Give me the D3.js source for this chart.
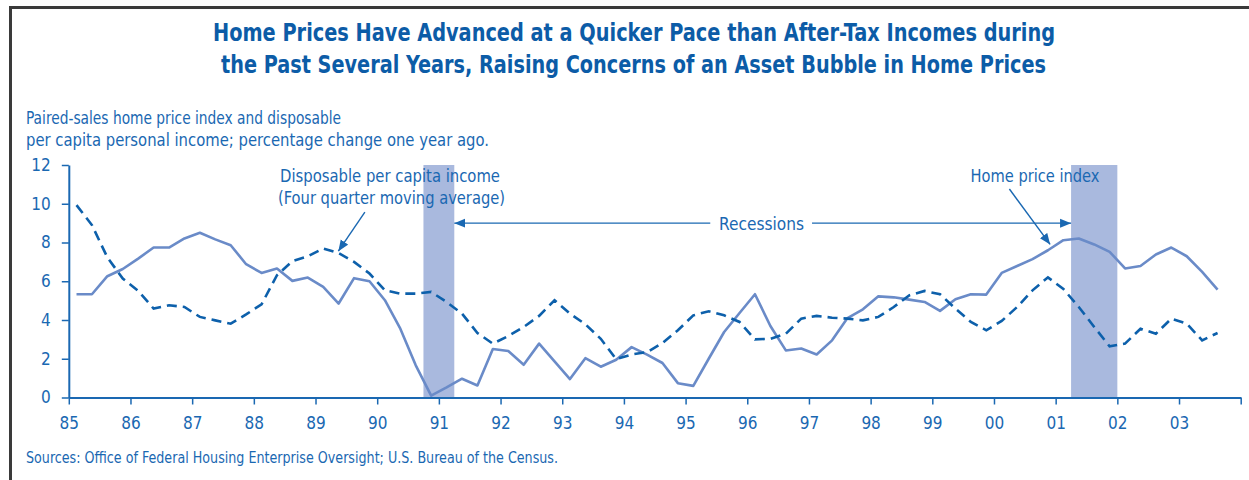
<!DOCTYPE html>
<html>
<head>
<meta charset="utf-8">
<script src="https://cdn.jsdelivr.net/npm/d3@7/dist/d3.min.js"></script>
<style>
  html, body { margin: 0; padding: 0; background: #fff; }
  svg text { font-family: "Liberation Sans Narrow", "Arial Narrow", "DejaVu Sans Condensed", sans-serif; }
</style>
</head>
<body>
<svg id="chart" width="1249" height="480"></svg>
<script>
// Quarterly data, 1985Q1 .. 2003Q3 (percent change from one year ago)
const startYear = 1985;
const homePrice = [
  5.33, 5.33, 6.26, 6.63, 7.17, 7.74, 7.74, 8.21, 8.50, 8.16,
  7.86, 6.88, 6.43, 6.66, 6.02, 6.19, 5.71, 4.85, 6.16, 6.00,
  5.02, 3.55, 1.66, 0.10, 0.52, 0.97, 0.62, 2.50, 2.40, 1.69,
  2.78, 1.86, 0.95, 2.03, 1.59, 1.95, 2.60, 2.21, 1.78, 0.74,
  0.60, 2.00, 3.38, 4.36, 5.33, 3.69, 2.43, 2.53, 2.22, 2.95,
  4.10, 4.55, 5.22, 5.17, 5.05, 4.93, 4.47, 5.07, 5.33, 5.31,
  6.43, 6.79, 7.14, 7.60, 8.12, 8.21, 7.90, 7.52, 6.66, 6.79,
  7.38, 7.74, 7.29, 6.48, 5.57
];
const income = [
  9.93, 8.90, 7.23, 6.14, 5.50, 4.59, 4.76, 4.67, 4.16, 3.98,
  3.81, 4.29, 4.81, 6.31, 7.04, 7.29, 7.69, 7.45, 7.00, 6.40,
  5.53, 5.36, 5.36, 5.45, 4.93, 4.33, 3.33, 2.78, 3.17, 3.64,
  4.21, 5.02, 4.33, 3.78, 3.03, 1.98, 2.22, 2.34, 2.81, 3.47,
  4.24, 4.45, 4.24, 3.90, 3.00, 3.03, 3.29, 4.07, 4.21, 4.12,
  4.07, 3.98, 4.16, 4.67, 5.27, 5.50, 5.33, 4.59, 3.90, 3.47,
  3.95, 4.67, 5.53, 6.20, 5.60, 4.67, 3.64, 2.64, 2.78, 3.55,
  3.29, 4.07, 3.81, 2.95, 3.33
];
const recessions = [[1990.75, 1991.25], [2001.25, 2002.0]];
const xTicks = d3.range(1985, 2005);
const xTickLabels = ["85","86","87","88","89","90","91","92","93","94","95","96","97","98","99","00","01","02","03",""];
const yTicks = [0, 2, 4, 6, 8, 10, 12];

const titleLines = [
  "Home Prices Have Advanced at a Quicker Pace than After-Tax Incomes during",
  "the Past Several Years, Raising Concerns of an Asset Bubble in Home Prices"
];
const subtitleLines = [
  "Paired-sales home price index and disposable",
  "per capita personal income; percentage change one year ago."
];
const sourceText = "Sources: Office of Federal Housing Enterprise Oversight; U.S. Bureau of the Census.";

const blue = "#1a68b2";
const titleBlue = "#0c5ca7";
const solidBlue = "#6a8bc8";
const dashBlue = "#0d60ab";
const bandFill = "#a9b9de";

const svg = d3.select("#chart");

// frame
svg.append("path")
  .attr("d", "M10.5,480V7.5H1249")
  .attr("fill", "none")
  .attr("stroke", "#3a3a3a")
  .attr("stroke-width", 3);

// helper: text fitted to measured width
function fitText(sel, str, width) {
  sel.text(str);
  if (width) sel.attr("textLength", width).attr("lengthAdjust", "spacingAndGlyphs");
  return sel;
}

// title
[[634, 41, 842], [633.5, 73, 825]].forEach((p, i) => {
  fitText(svg.append("text")
    .attr("x", p[0]).attr("y", p[1])
    .attr("text-anchor", "middle")
    .attr("font-size", 25).attr("font-weight", "bold")
    .attr("fill", titleBlue), titleLines[i], p[2]);
});

// axis caption
[[124, 315], [146, 463]].forEach((p, i) => {
  fitText(svg.append("text")
    .attr("x", 26).attr("y", p[0])
    .attr("font-size", 17)
    .attr("fill", blue), subtitleLines[i], p[1]);
});

// sources
fitText(svg.append("text")
  .attr("x", 26).attr("y", 463)
  .attr("font-size", 15)
  .attr("fill", blue), sourceText, 532);

// scales
const x = d3.scaleLinear().domain([1985, 2004]).range([68.8, 1240.7]);
const y = d3.scaleLinear().domain([0, 12]).range([397.5, 165]);
const dateOf = (i) => startYear + (i + 0.5) / 4;

// recession bands
svg.append("g")
  .selectAll("rect")
  .data(recessions)
  .join("rect")
  .attr("x", (d) => x(d[0]))
  .attr("width", (d) => x(d[1]) - x(d[0]))
  .attr("y", y(12))
  .attr("height", y(0) - y(12))
  .attr("fill", bandFill);

// axes
const xAxis = svg.append("g")
  .attr("transform", `translate(0,${y(0)})`)
  .call(d3.axisBottom(x).tickValues(xTicks).tickSize(7).tickSizeOuter(0)
    .tickPadding(12).tickFormat((d, i) => xTickLabels[i]));
const yAxis = svg.append("g")
  .attr("transform", `translate(${x(1985)},0)`)
  .call(d3.axisLeft(y).tickValues(yTicks).tickSize(7).tickSizeOuter(0)
    .tickPadding(11).tickFormat(d3.format("d")));

[xAxis, yAxis].forEach((g) => {
  g.select(".domain").attr("stroke", blue).attr("stroke-width", 2);
  g.selectAll(".tick line").attr("stroke", blue).attr("stroke-width", 1.5);
  g.selectAll(".tick text").attr("fill", blue).attr("font-size", 17)
    .attr("font-family", '"Liberation Sans Narrow", "Arial Narrow", sans-serif');
});

// series
const line = d3.line().x((d, i) => x(dateOf(i))).y((d) => y(d));

svg.append("path")
  .datum(homePrice)
  .attr("d", line)
  .attr("fill", "none")
  .attr("stroke", solidBlue)
  .attr("stroke-width", 2.6)
  .attr("stroke-linejoin", "round");

svg.append("path")
  .datum(income)
  .attr("d", line)
  .attr("fill", "none")
  .attr("stroke", dashBlue)
  .attr("stroke-width", 2.6)
  .attr("stroke-dasharray", "10,6");

// arrow marker
svg.append("defs").append("marker")
  .attr("id", "arrow")
  .attr("markerUnits", "userSpaceOnUse")
  .attr("viewBox", "0 -5 12 10")
  .attr("refX", 11).attr("refY", 0)
  .attr("markerWidth", 12).attr("markerHeight", 10)
  .attr("orient", "auto")
  .append("path")
  .attr("d", "M0,-4.5L11,0L0,4.5Z")
  .attr("fill", blue);

const arrows = [
  [[1989.80, 9.57], [1989.37, 7.55]],
  [[1995.40, 9.0], [1991.25, 9.0]],
  [[1997.05, 9.0], [2001.25, 9.0]],
  [[2000.25, 10.76], [2000.91, 7.9]]
];
svg.append("g")
  .selectAll("line")
  .data(arrows)
  .join("line")
  .attr("x1", (d) => x(d[0][0])).attr("y1", (d) => y(d[0][1]))
  .attr("x2", (d) => x(d[1][0])).attr("y2", (d) => y(d[1][1]))
  .attr("stroke", blue)
  .attr("stroke-width", 1.4)
  .attr("marker-end", "url(#arrow)");

// annotation labels
const notes = [
  ["Disposable per capita income", 280, 182, 220, "start"],
  ["(Four quarter moving average)", 278, 204, 227, "start"],
  ["Recessions", 719, 230, 85, "start"],
  ["Home price index", 970.5, 182, 129, "start"]
];
notes.forEach((n) => {
  fitText(svg.append("text")
    .attr("x", n[1]).attr("y", n[2])
    .attr("text-anchor", n[4])
    .attr("font-size", 17)
    .attr("fill", blue), n[0], n[3]);
});
</script>
</body>
</html>
